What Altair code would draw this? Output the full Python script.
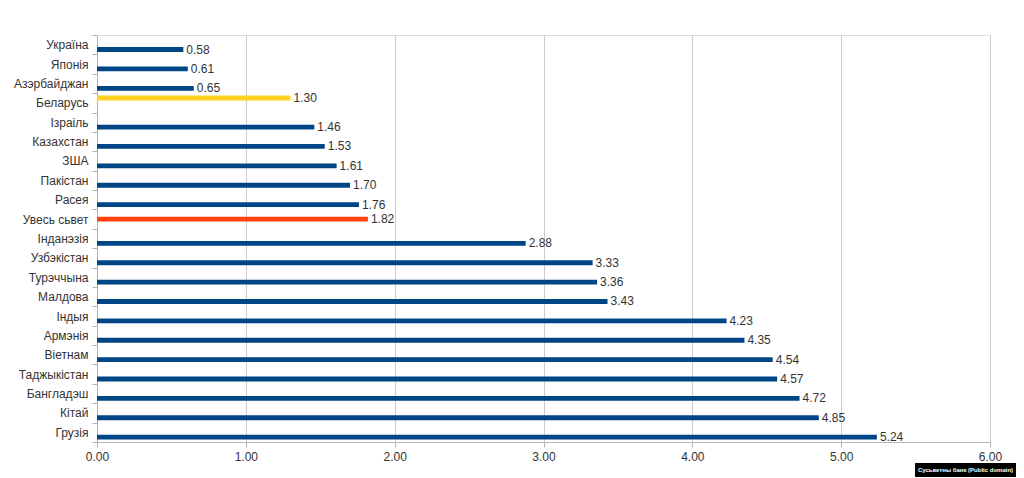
import altair as alt
import pandas as pd

countries = ["Україна", "Японія", "Азэрбайджан", "Беларусь", "Ізраіль", "Казахстан",
             "ЗША", "Пакістан", "Расея", "Увесь сьвет", "Інданэзія", "Узбэкістан",
             "Турэччына", "Малдова", "Індыя", "Армэнія", "Віетнам", "Таджыкістан",
             "Бангладэш", "Кітай", "Грузія"]
values = [0.58, 0.61, 0.65, 1.30, 1.46, 1.53, 1.61, 1.70, 1.76, 1.82, 2.88, 3.33,
          3.36, 3.43, 4.23, 4.35, 4.54, 4.57, 4.72, 4.85, 5.24]
groups = ["Беларусь" if c == "Беларусь" else ("Сьвет" if c == "Увесь сьвет" else "Краіны")
          for c in countries]
group_order = ["Беларусь", "Сьвет", "Краіны"]
group_colors = ["#ffd320", "#ff420e", "#004586"]
x_ticks = [0, 1, 2, 3, 4, 5, 6]
source_note = "Сусьветны банк (Public domain)"

df = pd.DataFrame({"country": countries, "value": values, "group": groups})

y_enc = alt.Y("country:N", sort=countries, title=None,
              scale=alt.Scale(paddingInner=0, paddingOuter=0),
              axis=alt.Axis(tickBand="extent", ticks=True, tickSize=5, tickColor="#b3b3b3",
                            domainColor="#b3b3b3", labelPadding=4, labelFontSize=12,
                            labelColor="#333333", labelFont="Liberation Sans", grid=False))
yoff_enc = alt.YOffset("group:N", sort=group_order,
                       scale=alt.Scale(domain=group_order, paddingInner=0, paddingOuter=0.5))
x_enc = alt.X("value:Q", title=None,
              scale=alt.Scale(domain=[0, 6], nice=False),
              axis=alt.Axis(values=x_ticks, format=".2f", grid=True, gridColor="#cccccc",
                            tickSize=5, tickColor="#b3b3b3", domainColor="#b3b3b3",
                            labelFlush=False,
                            labelPadding=4, labelFontSize=12, labelColor="#333333",
                            labelFont="Liberation Sans"))
color_enc = alt.Color("group:N", scale=alt.Scale(domain=group_order, range=group_colors),
                      legend=None)

base = alt.Chart(df)
bars = base.mark_bar().encode(y=y_enc, yOffset=yoff_enc, x=x_enc, color=color_enc)
labels = base.mark_text(align="left", baseline="middle", dx=3, fontSize=12,
                        color="#333333", font="Liberation Sans").encode(
    y=alt.Y("country:N", sort=countries), yOffset=yoff_enc, x="value:Q",
    text=alt.Text("value:Q", format=".2f"))

note_df = pd.DataFrame({"t": [source_note]})
note_box = alt.Chart(note_df).mark_rect(color="black").encode(
    x=alt.value(818), x2=alt.value(919), y=alt.value(428), y2=alt.value(442))
note_text = alt.Chart(note_df).mark_text(color="white", fontSize=6, fontWeight="bold",
                                         font="Liberation Sans",
                                         align="center", baseline="middle").encode(
    x=alt.value(868.5), y=alt.value(435), text="t:N")

chart = alt.layer(bars, labels, note_box, note_text).properties(
    width=893, height=407,
    autosize=alt.AutoSizeParams(type="none"),
    padding={"left": 89, "top": 27, "right": 26, "bottom": 36},
).configure_view(stroke="#cccccc").configure(background="white")

chart.save("out.html", embed_options={"renderer": "svg", "actions": False})
